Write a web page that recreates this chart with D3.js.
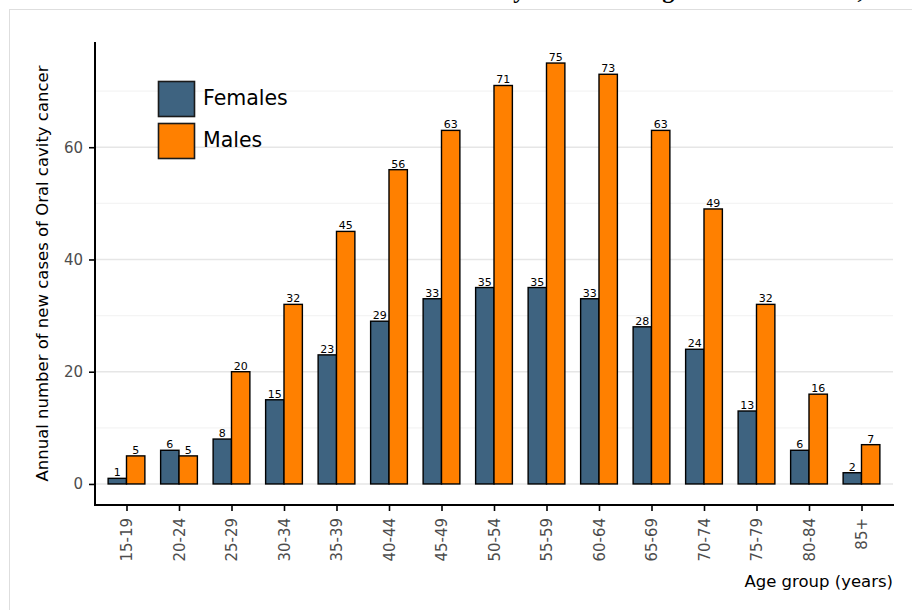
<!DOCTYPE html>
<html>
<head>
<meta charset="utf-8">
<script src="https://cdn.jsdelivr.net/npm/d3@7"></script>
<style>
  html, body { margin: 0; padding: 0; background: #fff; }
  svg { display: block; }
</style>
</head>
<body>
<svg id="chart" width="912" height="610"></svg>
<script>
// ---- data ----
const ageGroups = ["15-19","20-24","25-29","30-34","35-39","40-44","45-49","50-54","55-59","60-64","65-69","70-74","75-79","80-84","85+"];
const females = [1, 6, 8, 15, 23, 29, 33, 35, 35, 33, 28, 24, 13, 6, 2];
const males   = [5, 5, 20, 32, 45, 56, 63, 71, 75, 73, 63, 49, 32, 16, 7];
const seriesNames = ["Females", "Males"];
const seriesColors = ["#3E6380", "#FF8000"];
const majorTicks = [0, 20, 40, 60];
const minorTicks = [10, 30, 50, 70];
const yTitle = "Annual number of new cases of Oral cavity cancer";
const xTitle = "Age group (years)";
const titleText = "Oral cavity cancer among Males & Females, 2012-2016";

const svg = d3.select("#chart");
const panel = { left: 95, right: 893, top: 42, bottom: 505 };

// outer frame
svg.append("rect").attr("x", 9.5).attr("y", 9.5).attr("width", 940).attr("height", 640)
  .attr("fill", "none").attr("stroke", "#dedede").attr("stroke-width", 1);

// title (cut off at the top edge, as in the reference)
svg.append("text").attr("x", 410).attr("y", -2.5)
  .attr("font-family", "Liberation Serif, serif").attr("font-weight", "bold")
  .attr("font-size", 24).attr("fill", "#000").text(titleText);

const x = d3.scalePoint().domain(ageGroups).range([panel.left, panel.right]).padding(0.6);
const step = x.step();
const barW = step * 0.35;
const y = d3.scaleLinear().domain([-3.75, 78.75]).range([panel.bottom, panel.top]);

// grid
svg.append("g").selectAll("line").data(minorTicks).join("line")
  .attr("x1", panel.left).attr("x2", panel.right)
  .attr("y1", d => y(d)).attr("y2", d => y(d))
  .attr("stroke", "#f4f4f4").attr("stroke-width", 1.2);
svg.append("g").selectAll("line").data(majorTicks).join("line")
  .attr("x1", panel.left).attr("x2", panel.right)
  .attr("y1", d => y(d)).attr("y2", d => y(d))
  .attr("stroke", "#e6e6e6").attr("stroke-width", 1.4);

// bars
const series = [females, males];
series.forEach((vals, si) => {
  const g = svg.append("g");
  g.selectAll("rect").data(vals).join("rect")
    .attr("x", (d, i) => x(ageGroups[i]) + (si === 0 ? -barW : 0))
    .attr("y", d => y(d))
    .attr("width", barW)
    .attr("height", d => y(0) - y(d))
    .attr("fill", seriesColors[si])
    .attr("stroke", "#000").attr("stroke-width", 1.4);
  g.selectAll("text").data(vals).join("text")
    .attr("x", (d, i) => x(ageGroups[i]) + (si === 0 ? -barW / 2 : barW / 2))
    .attr("y", d => y(d) - 2)
    .attr("text-anchor", "middle")
    .attr("font-family", "DejaVu Sans, sans-serif").attr("font-size", 11)
    .attr("fill", "#000").text(d => d);
});

// axes
const yAxis = d3.axisLeft(y).tickValues(majorTicks).tickSize(6).tickPadding(6);
const gy = svg.append("g").attr("transform", `translate(${panel.left},0)`).call(yAxis);
gy.select(".domain").remove();
gy.selectAll(".tick line").attr("stroke", "#000").attr("stroke-width", 1.6);
gy.selectAll(".tick text").attr("font-family", "DejaVu Sans, sans-serif").attr("font-size", 15).attr("fill", "#4d4d4d");

const xAxis = d3.axisBottom(x).tickSize(6);
const gx = svg.append("g").attr("transform", `translate(0,${panel.bottom})`).call(xAxis);
gx.select(".domain").remove();
gx.selectAll(".tick line").attr("stroke", "#000").attr("stroke-width", 1.6);
gx.selectAll(".tick text")
  .attr("font-family", "DejaVu Sans, sans-serif").attr("font-size", 15).attr("fill", "#4d4d4d")
  .attr("transform", "rotate(-90)")
  .attr("x", -13).attr("y", 0).attr("dy", "0.35em")
  .attr("text-anchor", "end");

// axis lines
svg.append("line").attr("x1", panel.left).attr("x2", panel.left).attr("y1", panel.top).attr("y2", panel.bottom + 1)
  .attr("stroke", "#000").attr("stroke-width", 2);
svg.append("line").attr("x1", panel.left - 1).attr("x2", panel.right + 1).attr("y1", panel.bottom).attr("y2", panel.bottom)
  .attr("stroke", "#000").attr("stroke-width", 2);

// axis titles
svg.append("text")
  .attr("transform", `translate(48,${(panel.top + panel.bottom) / 2}) rotate(-90)`)
  .attr("text-anchor", "middle")
  .attr("font-family", "DejaVu Sans, sans-serif").attr("font-size", 16.5).attr("fill", "#000")
  .text(yTitle);
svg.append("text").attr("x", panel.right).attr("y", 587)
  .attr("text-anchor", "end")
  .attr("font-family", "DejaVu Sans, sans-serif").attr("font-size", 16.5).attr("fill", "#000")
  .text(xTitle);

// legend
const legend = svg.append("g").attr("transform", "translate(158,81)");
seriesNames.forEach((name, i) => {
  const row = legend.append("g").attr("transform", `translate(0,${i * 42})`);
  row.append("rect").attr("x", 0.5).attr("y", 0.5).attr("width", 36).attr("height", 35)
    .attr("fill", seriesColors[i]).attr("stroke", "#1a1a1a").attr("stroke-width", 1.6);
  row.append("text").attr("x", 45).attr("y", 24)
    .attr("font-family", "DejaVu Sans, sans-serif").attr("font-size", 20.5).attr("fill", "#000")
    .text(name);
});
</script>
</body>
</html>
